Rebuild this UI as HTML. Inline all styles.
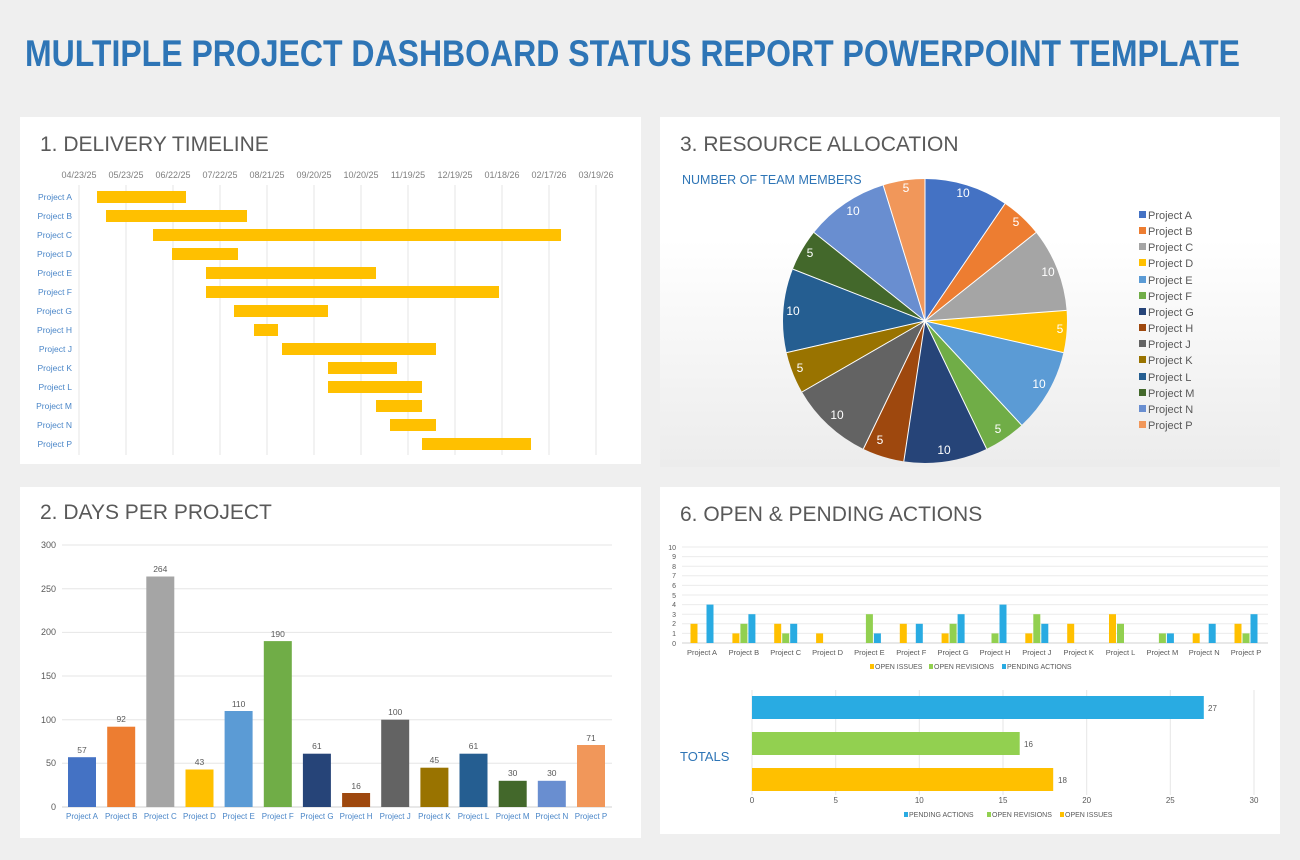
<!DOCTYPE html>
<html><head><meta charset="utf-8"><style>
body{margin:0;background:#efefef;}
svg{display:block;font-family:"Liberation Sans",sans-serif;}
</style></head><body>
<svg width="1300" height="860" viewBox="0 0 1300 860" xmlns="http://www.w3.org/2000/svg">
<rect width="1300" height="860" fill="#efefef"/>
<text x="25" y="66" font-size="37" font-weight="bold" fill="#2E75B6" textLength="1215" lengthAdjust="spacingAndGlyphs">MULTIPLE PROJECT DASHBOARD STATUS REPORT POWERPOINT TEMPLATE</text>

<rect x="20" y="117" width="621" height="347" fill="#fff"/>
<rect x="660" y="117" width="620" height="350" fill="#fff"/>
<rect x="20" y="487" width="621" height="351" fill="#fff"/>
<rect x="660" y="487" width="620" height="347" fill="#fff"/>
<defs><linearGradient id="pg" x1="0" y1="0" x2="0" y2="1"><stop offset="0" stop-color="#fff"/><stop offset="1" stop-color="#ececec"/></linearGradient></defs>
<rect x="660" y="240" width="620" height="227" fill="url(#pg)"/>

<g font-size="21" fill="#595959">
<text x="40" y="151">1. DELIVERY TIMELINE</text>
<text x="680" y="151">3. RESOURCE ALLOCATION</text>
<text x="40" y="519">2. DAYS PER PROJECT</text>
<text x="680" y="521">6. OPEN &amp; PENDING ACTIONS</text>
</g>

<g stroke="#e6e6e6" stroke-width="1">
<line x1="79" y1="185" x2="79" y2="455"/><line x1="126" y1="185" x2="126" y2="455"/><line x1="173" y1="185" x2="173" y2="455"/><line x1="220" y1="185" x2="220" y2="455"/><line x1="267" y1="185" x2="267" y2="455"/><line x1="314" y1="185" x2="314" y2="455"/><line x1="361" y1="185" x2="361" y2="455"/><line x1="408" y1="185" x2="408" y2="455"/><line x1="455" y1="185" x2="455" y2="455"/><line x1="502" y1="185" x2="502" y2="455"/><line x1="549" y1="185" x2="549" y2="455"/><line x1="596" y1="185" x2="596" y2="455"/>
</g>
<g font-size="9" fill="#7f7f7f" text-anchor="middle">
<text x="79" y="178">04/23/25</text><text x="126" y="178">05/23/25</text><text x="173" y="178">06/22/25</text><text x="220" y="178">07/22/25</text><text x="267" y="178">08/21/25</text><text x="314" y="178">09/20/25</text><text x="361" y="178">10/20/25</text><text x="408" y="178">11/19/25</text><text x="455" y="178">12/19/25</text><text x="502" y="178">01/18/26</text><text x="549" y="178">02/17/26</text><text x="596" y="178">03/19/26</text>
</g>
<g font-size="8.5" fill="#4a86c8" text-anchor="end">
<text x="72" y="200">Project A</text><text x="72" y="219">Project B</text><text x="72" y="238">Project C</text><text x="72" y="257">Project D</text><text x="72" y="276">Project E</text><text x="72" y="295">Project F</text><text x="72" y="314">Project G</text><text x="72" y="333">Project H</text><text x="72" y="352">Project J</text><text x="72" y="371">Project K</text><text x="72" y="390">Project L</text><text x="72" y="409">Project M</text><text x="72" y="428">Project N</text><text x="72" y="447">Project P</text>
</g>
<g fill="#FFC000">
<rect x="97" y="191" width="89" height="12"/><rect x="106" y="210" width="141" height="12"/><rect x="153" y="229" width="408" height="12"/><rect x="172" y="248" width="66" height="12"/><rect x="206" y="267" width="170" height="12"/><rect x="206" y="286" width="293" height="12"/><rect x="234" y="305" width="94" height="12"/><rect x="254" y="324" width="24" height="12"/><rect x="282" y="343" width="154" height="12"/><rect x="328" y="362" width="69" height="12"/><rect x="328" y="381" width="94" height="12"/><rect x="376" y="400" width="46" height="12"/><rect x="390" y="419" width="46" height="12"/><rect x="422" y="438" width="109" height="12"/>
</g>

<text x="682" y="184" font-size="12.5" fill="#2E75B6">NUMBER OF TEAM MEMBERS</text>
<g fill="none" stroke-width="142" transform="rotate(-90 925 321)">
<circle cx="925" cy="321" r="71" stroke="#4472C4" stroke-dasharray="42.49 500" stroke-dashoffset="0"/>
<circle cx="925" cy="321" r="71" stroke="#ED7D31" stroke-dasharray="21.24 500" stroke-dashoffset="-42.49"/>
<circle cx="925" cy="321" r="71" stroke="#A5A5A5" stroke-dasharray="42.49 500" stroke-dashoffset="-63.73"/>
<circle cx="925" cy="321" r="71" stroke="#FFC000" stroke-dasharray="21.24 500" stroke-dashoffset="-106.22"/>
<circle cx="925" cy="321" r="71" stroke="#5B9BD5" stroke-dasharray="42.49 500" stroke-dashoffset="-127.46"/>
<circle cx="925" cy="321" r="71" stroke="#70AD47" stroke-dasharray="21.24 500" stroke-dashoffset="-169.95"/>
<circle cx="925" cy="321" r="71" stroke="#264478" stroke-dasharray="42.49 500" stroke-dashoffset="-191.19"/>
<circle cx="925" cy="321" r="71" stroke="#9E480E" stroke-dasharray="21.24 500" stroke-dashoffset="-233.68"/>
<circle cx="925" cy="321" r="71" stroke="#636363" stroke-dasharray="42.49 500" stroke-dashoffset="-254.92"/>
<circle cx="925" cy="321" r="71" stroke="#997300" stroke-dasharray="21.24 500" stroke-dashoffset="-297.41"/>
<circle cx="925" cy="321" r="71" stroke="#255E91" stroke-dasharray="42.49 500" stroke-dashoffset="-318.65"/>
<circle cx="925" cy="321" r="71" stroke="#43682B" stroke-dasharray="21.24 500" stroke-dashoffset="-361.14"/>
<circle cx="925" cy="321" r="71" stroke="#698ED0" stroke-dasharray="42.49 500" stroke-dashoffset="-382.38"/>
<circle cx="925" cy="321" r="71" stroke="#F1975A" stroke-dasharray="21.24 500" stroke-dashoffset="-424.87"/>
</g>
<g stroke="#fff" stroke-width="1">
<line x1="925" y1="321" x2="925" y2="179"/><line x1="925" y1="321" x2="1005" y2="203.7"/><line x1="925" y1="321" x2="1036" y2="232.5"/><line x1="925" y1="321" x2="1066.6" y2="310.4"/><line x1="925" y1="321" x2="1063.4" y2="352.6"/><line x1="925" y1="321" x2="1021.6" y2="425.1"/><line x1="925" y1="321" x2="986.6" y2="448.9"/><line x1="925" y1="321" x2="903.8" y2="461.4"/><line x1="925" y1="321" x2="863.4" y2="448.9"/><line x1="925" y1="321" x2="802" y2="392"/><line x1="925" y1="321" x2="786.6" y2="352.6"/><line x1="925" y1="321" x2="792.8" y2="269.1"/><line x1="925" y1="321" x2="814" y2="232.5"/><line x1="925" y1="321" x2="883.2" y2="185.3"/>
</g>
<g font-size="12" fill="#fff" text-anchor="middle">
<text x="963" y="197">10</text><text x="1016" y="226">5</text><text x="1048" y="276">10</text><text x="1060" y="333">5</text><text x="1039" y="388">10</text><text x="998" y="433">5</text><text x="944" y="454">10</text><text x="880" y="444">5</text><text x="837" y="419">10</text><text x="800" y="372">5</text><text x="793" y="315">10</text><text x="810" y="257">5</text><text x="853" y="215">10</text><text x="906" y="192">5</text>
</g>
<g font-size="11" fill="#595959">
<rect x="1139" y="211" width="7" height="7" fill="#4472C4"/><text x="1148" y="219">Project A</text>
<rect x="1139" y="227" width="7" height="7" fill="#ED7D31"/><text x="1148" y="235">Project B</text>
<rect x="1139" y="243" width="7" height="7" fill="#A5A5A5"/><text x="1148" y="251">Project C</text>
<rect x="1139" y="259" width="7" height="7" fill="#FFC000"/><text x="1148" y="267">Project D</text>
<rect x="1139" y="276" width="7" height="7" fill="#5B9BD5"/><text x="1148" y="284">Project E</text>
<rect x="1139" y="292" width="7" height="7" fill="#70AD47"/><text x="1148" y="300">Project F</text>
<rect x="1139" y="308" width="7" height="7" fill="#264478"/><text x="1148" y="316">Project G</text>
<rect x="1139" y="324" width="7" height="7" fill="#9E480E"/><text x="1148" y="332">Project H</text>
<rect x="1139" y="340" width="7" height="7" fill="#636363"/><text x="1148" y="348">Project J</text>
<rect x="1139" y="356" width="7" height="7" fill="#997300"/><text x="1148" y="364">Project K</text>
<rect x="1139" y="373" width="7" height="7" fill="#255E91"/><text x="1148" y="381">Project L</text>
<rect x="1139" y="389" width="7" height="7" fill="#43682B"/><text x="1148" y="397">Project M</text>
<rect x="1139" y="405" width="7" height="7" fill="#698ED0"/><text x="1148" y="413">Project N</text>
<rect x="1139" y="421" width="7" height="7" fill="#F1975A"/><text x="1148" y="429">Project P</text>
</g>

<g stroke="#e6e6e6"><line x1="62" y1="545" x2="612" y2="545"/><line x1="62" y1="588.7" x2="612" y2="588.7"/><line x1="62" y1="632.4" x2="612" y2="632.4"/><line x1="62" y1="676" x2="612" y2="676"/><line x1="62" y1="719.7" x2="612" y2="719.7"/><line x1="62" y1="763.3" x2="612" y2="763.3"/><line x1="62" y1="807" x2="612" y2="807" stroke="#d0d0d0"/></g>
<g font-size="9" fill="#595959" text-anchor="end">
<text x="56" y="548">300</text><text x="56" y="592">250</text><text x="56" y="635">200</text><text x="56" y="679">150</text><text x="56" y="723">100</text><text x="56" y="766">50</text><text x="56" y="810">0</text>
</g>
<rect x="68" y="757.2" width="28" height="49.8" fill="#4472C4"/>
<rect x="107.2" y="726.7" width="28" height="80.3" fill="#ED7D31"/>
<rect x="146.3" y="576.5" width="28" height="230.5" fill="#A5A5A5"/>
<rect x="185.5" y="769.5" width="28" height="37.5" fill="#FFC000"/>
<rect x="224.6" y="711" width="28" height="96" fill="#5B9BD5"/>
<rect x="263.8" y="641.1" width="28" height="165.9" fill="#70AD47"/>
<rect x="302.9" y="753.7" width="28" height="53.3" fill="#264478"/>
<rect x="342.1" y="793" width="28" height="14" fill="#9E480E"/>
<rect x="381.2" y="719.7" width="28" height="87.3" fill="#636363"/>
<rect x="420.4" y="767.7" width="28" height="39.3" fill="#997300"/>
<rect x="459.5" y="753.7" width="28" height="53.3" fill="#255E91"/>
<rect x="498.7" y="780.8" width="28" height="26.2" fill="#43682B"/>
<rect x="537.8" y="780.8" width="28" height="26.2" fill="#698ED0"/>
<rect x="577" y="745" width="28" height="62" fill="#F1975A"/>
<g font-size="8.5" fill="#595959" text-anchor="middle">
<text x="82" y="753">57</text><text x="121.2" y="722">92</text><text x="160.3" y="572">264</text><text x="199.5" y="765">43</text><text x="238.6" y="707">110</text><text x="277.8" y="637">190</text><text x="316.9" y="749">61</text><text x="356.1" y="789">16</text><text x="395.2" y="715">100</text><text x="434.4" y="763">45</text><text x="473.5" y="749">61</text><text x="512.7" y="776">30</text><text x="551.8" y="776">30</text><text x="591" y="741">71</text>
</g>
<g font-size="8" fill="#4a86c8" text-anchor="middle">
<text x="82" y="819">Project A</text><text x="121.2" y="819">Project B</text><text x="160.3" y="819">Project C</text><text x="199.5" y="819">Project D</text><text x="238.6" y="819">Project E</text><text x="277.8" y="819">Project F</text><text x="316.9" y="819">Project G</text><text x="356.1" y="819">Project H</text><text x="395.2" y="819">Project J</text><text x="434.4" y="819">Project K</text><text x="473.5" y="819">Project L</text><text x="512.7" y="819">Project M</text><text x="551.8" y="819">Project N</text><text x="591" y="819">Project P</text>
</g>

<g stroke="#ebebeb"><line x1="682" y1="547" x2="1268" y2="547"/><line x1="682" y1="556.6" x2="1268" y2="556.6"/><line x1="682" y1="566.2" x2="1268" y2="566.2"/><line x1="682" y1="575.8" x2="1268" y2="575.8"/><line x1="682" y1="585.4" x2="1268" y2="585.4"/><line x1="682" y1="595" x2="1268" y2="595"/><line x1="682" y1="604.6" x2="1268" y2="604.6"/><line x1="682" y1="614.2" x2="1268" y2="614.2"/><line x1="682" y1="623.8" x2="1268" y2="623.8"/><line x1="682" y1="633.4" x2="1268" y2="633.4"/><line x1="682" y1="643" x2="1268" y2="643" stroke="#d0d0d0"/></g>
<g font-size="7" fill="#595959" text-anchor="end">
<text x="676" y="550">10</text><text x="676" y="559">9</text><text x="676" y="569">8</text><text x="676" y="578">7</text><text x="676" y="588">6</text><text x="676" y="598">5</text><text x="676" y="607">4</text><text x="676" y="617">3</text><text x="676" y="626">2</text><text x="676" y="636">1</text><text x="676" y="646">0</text>
</g>
<g fill="#FFC000">
<rect x="690.5" y="623.8" width="7" height="19.2"/><rect x="732.4" y="633.4" width="7" height="9.6"/><rect x="774.2" y="623.8" width="7" height="19.2"/><rect x="816.1" y="633.4" width="7" height="9.6"/><rect x="899.8" y="623.8" width="7" height="19.2"/><rect x="941.6" y="633.4" width="7" height="9.6"/><rect x="1025.3" y="633.4" width="7" height="9.6"/><rect x="1067.2" y="623.8" width="7" height="19.2"/><rect x="1109" y="614.2" width="7" height="28.8"/><rect x="1192.7" y="633.4" width="7" height="9.6"/><rect x="1234.5" y="623.8" width="7" height="19.2"/>
</g>
<g fill="#92D050">
<rect x="740.4" y="623.8" width="7" height="19.2"/><rect x="782.2" y="633.4" width="7" height="9.6"/><rect x="865.9" y="614.2" width="7" height="28.8"/><rect x="949.6" y="623.8" width="7" height="19.2"/><rect x="991.5" y="633.4" width="7" height="9.6"/><rect x="1033.3" y="614.2" width="7" height="28.8"/><rect x="1117" y="623.8" width="7" height="19.2"/><rect x="1158.9" y="633.4" width="7" height="9.6"/><rect x="1242.5" y="633.4" width="7" height="9.6"/>
</g>
<g fill="#29ABE2">
<rect x="706.5" y="604.6" width="7" height="38.4"/><rect x="748.4" y="614.2" width="7" height="28.8"/><rect x="790.2" y="623.8" width="7" height="19.2"/><rect x="873.9" y="633.4" width="7" height="9.6"/><rect x="915.8" y="623.8" width="7" height="19.2"/><rect x="957.6" y="614.2" width="7" height="28.8"/><rect x="999.5" y="604.6" width="7" height="38.4"/><rect x="1041.3" y="623.8" width="7" height="19.2"/><rect x="1166.9" y="633.4" width="7" height="9.6"/><rect x="1208.7" y="623.8" width="7" height="19.2"/><rect x="1250.5" y="614.2" width="7" height="28.8"/>
</g>
<g font-size="7.5" fill="#595959" text-anchor="middle">
<text x="702" y="655">Project A</text><text x="743.9" y="655">Project B</text><text x="785.7" y="655">Project C</text><text x="827.6" y="655">Project D</text><text x="869.4" y="655">Project E</text><text x="911.3" y="655">Project F</text><text x="953.1" y="655">Project G</text><text x="995" y="655">Project H</text><text x="1036.8" y="655">Project J</text><text x="1078.7" y="655">Project K</text><text x="1120.5" y="655">Project L</text><text x="1162.4" y="655">Project M</text><text x="1204.2" y="655">Project N</text><text x="1246" y="655">Project P</text>
</g>
<g font-size="7" fill="#595959">
<rect x="870" y="664" width="4" height="5" fill="#FFC000"/><text x="875" y="669">OPEN ISSUES</text>
<rect x="929" y="664" width="4" height="5" fill="#92D050"/><text x="934" y="669">OPEN REVISIONS</text>
<rect x="1002" y="664" width="4" height="5" fill="#29ABE2"/><text x="1007" y="669">PENDING ACTIONS</text>
</g>

<g stroke="#e6e6e6"><line x1="752" y1="690" x2="752" y2="795"/><line x1="835.7" y1="690" x2="835.7" y2="795"/><line x1="919.3" y1="690" x2="919.3" y2="795"/><line x1="1003" y1="690" x2="1003" y2="795"/><line x1="1086.7" y1="690" x2="1086.7" y2="795"/><line x1="1170.3" y1="690" x2="1170.3" y2="795"/><line x1="1254" y1="690" x2="1254" y2="795"/></g>
<rect x="752" y="696" width="451.8" height="23" fill="#29ABE2"/>
<rect x="752" y="732" width="267.7" height="23" fill="#92D050"/>
<rect x="752" y="768" width="301.2" height="23" fill="#FFC000"/>
<g font-size="8" fill="#595959">
<text x="1208" y="711">27</text><text x="1024" y="747">16</text><text x="1058" y="783">18</text>
</g>
<text x="680" y="761" font-size="13" fill="#2E75B6">TOTALS</text>
<g font-size="8" fill="#595959" text-anchor="middle">
<text x="752" y="803">0</text><text x="835.7" y="803">5</text><text x="919.3" y="803">10</text><text x="1003" y="803">15</text><text x="1086.7" y="803">20</text><text x="1170.3" y="803">25</text><text x="1254" y="803">30</text>
</g>
<g font-size="7" fill="#595959">
<rect x="904" y="812" width="4" height="5" fill="#29ABE2"/><text x="909" y="817">PENDING ACTIONS</text>
<rect x="987" y="812" width="4" height="5" fill="#92D050"/><text x="992" y="817">OPEN REVISIONS</text>
<rect x="1060" y="812" width="4" height="5" fill="#FFC000"/><text x="1065" y="817">OPEN ISSUES</text>
</g>
</svg>
</body></html>
